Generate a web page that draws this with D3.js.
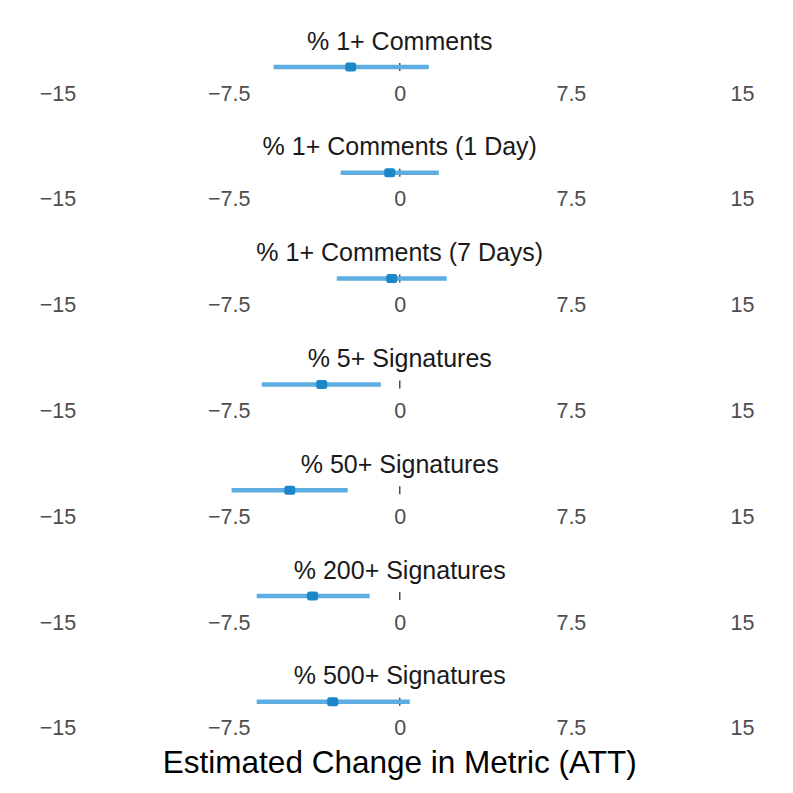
<!DOCTYPE html>
<html><head><meta charset="utf-8">
<script src="https://cdn.jsdelivr.net/npm/d3@7"></script>
<style>body{margin:0;background:#fff}svg{display:block}</style>
</head><body>
<script>
const metrics = ["% 1+ Comments","% 1+ Comments (1 Day)","% 1+ Comments (7 Days)","% 5+ Signatures","% 50+ Signatures","% 200+ Signatures","% 500+ Signatures"];
const estimates = [-2.15,-0.44,-0.35,-3.42,-4.82,-3.82,-2.94];
const lower = [-5.53,-2.59,-2.76,-6.05,-7.37,-6.27,-6.27];
const upper = [1.27,1.71,2.06,-0.83,-2.28,-1.32,0.44];
const tickValues = [-15,-7.5,0,7.5,15];
const tickLabels = ["\u221215","\u22127.5","0","7.5","15"];
const axisTitle = "Estimated Change in Metric (ATT)";

const W=793,H=793;
const svg=d3.select("body").append("svg").attr("width",W).attr("height",H);
const x=d3.scaleLinear().domain([-15,15]).range([57.5,742]);
const font="Liberation Sans, Arial, sans-serif";
const facetTop=d3.scaleBand().domain(d3.range(metrics.length)).range([0,740.6]);

metrics.forEach((m,i)=>{
  const g=svg.append("g").attr("transform",`translate(0,${facetTop(i)})`);
  g.append("text").attr("x",x(0)).attr("y",49.5).attr("text-anchor","middle")
    .attr("font-family",font).attr("font-size",25).attr("fill","#1a1a1a").text(m);
  const ly=67;
  g.append("line").attr("x1",x(0)).attr("x2",x(0)).attr("y1",ly-4).attr("y2",ly+4)
    .attr("stroke","#4d4d4d").attr("stroke-width",1.5);
  g.append("line").attr("x1",x(lower[i])).attr("x2",x(upper[i])).attr("y1",ly).attr("y2",ly)
    .attr("stroke","#5dade2").attr("stroke-width",4.5);
  g.append("rect").attr("x",x(estimates[i])-5.5).attr("y",ly-4.5).attr("width",11).attr("height",9)
    .attr("rx",2.5).attr("fill","#1b86c8");
  const axis=d3.axisBottom(x).tickValues(tickValues).tickFormat((d,j)=>tickLabels[j]).tickSize(0).tickPadding(0);
  const ag=g.append("g").attr("transform","translate(0,93)").call(axis);
  ag.select(".domain").remove();
  ag.selectAll("text").attr("font-family",font).attr("font-size",21.5).attr("fill","#4d4d4d").attr("y",0).attr("dy","0.35em");
});
svg.append("text").attr("x",x(0)).attr("y",773).attr("text-anchor","middle")
  .attr("font-family",font).attr("font-size",31.5).attr("fill","#000").text(axisTitle);
</script>
</body></html>
